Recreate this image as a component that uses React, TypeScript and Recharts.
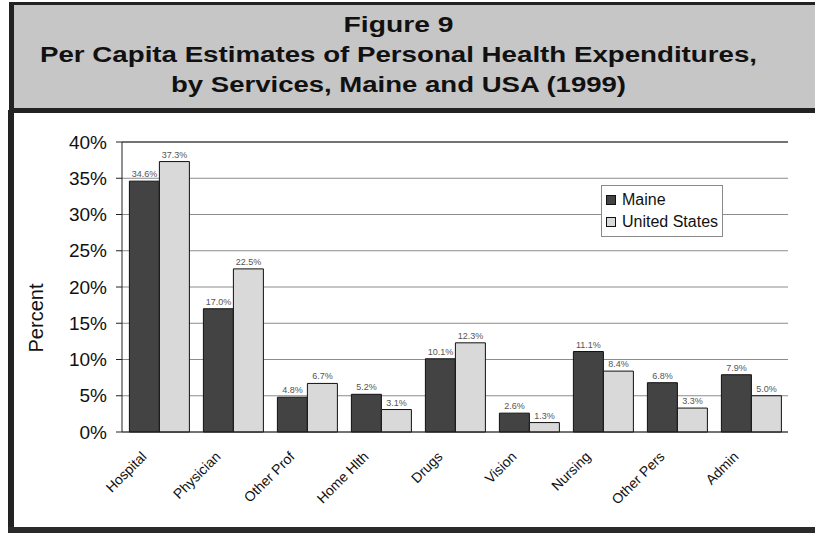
import React from "react";
import {
  BarChart,
  Bar,
  XAxis,
  YAxis,
  CartesianGrid,
  Legend,
  LabelList,
  ReferenceLine,
} from "recharts";

const categories = [
  "Hospital",
  "Physician",
  "Other Prof",
  "Home Hlth",
  "Drugs",
  "Vision",
  "Nursing",
  "Other Pers",
  "Admin",
];
const maine = [34.6, 17.0, 4.8, 5.2, 10.1, 2.6, 11.1, 6.8, 7.9];
const unitedStates = [37.3, 22.5, 6.7, 3.1, 12.3, 1.3, 8.4, 3.3, 5.0];
const yTicks = [0, 5, 10, 15, 20, 25, 30, 35, 40];

const titleLines = [
  "Figure 9",
  "Per Capita Estimates of Personal Health Expenditures,",
  "by Services, Maine and USA (1999)",
];

const data = categories.map((name, i) => ({
  name,
  maine: maine[i],
  us: unitedStates[i],
}));

const FONT = '"Liberation Sans", Arial, Helvetica, sans-serif';
const MAINE_FILL = "#434343";
const US_FILL = "#d9d9d9";

const pct = (v: number) => `${v.toFixed(1)}%`;

function XTick({ x, y, payload }: any) {
  return (
    <g transform={`translate(${x},${y})`}>
      <text
        transform="translate(-15,14) rotate(-45)"
        textAnchor="end"
        dy="0.35em"
        fontSize={14}
        fontFamily={FONT}
        fill="#111"
      >
        {payload.value}
      </text>
    </g>
  );
}

function LegendBox() {
  const items = [
    { label: "Maine", fill: MAINE_FILL },
    { label: "United States", fill: US_FILL },
  ];
  return (
    <div
      style={{
        width: 122,
        height: 52,
        border: "1px solid #8a8a8a",
        background: "#fff",
        boxSizing: "border-box",
        paddingTop: 3,
        fontFamily: FONT,
      }}
    >
      {items.map((it) => (
        <div
          key={it.label}
          style={{ display: "flex", alignItems: "center", height: 22 }}
        >
          <span
            style={{
              display: "inline-block",
              width: 8,
              height: 8,
              marginLeft: 4,
              marginRight: 6,
              background: it.fill,
              border: "1px solid #111",
            }}
          />
          <span style={{ fontSize: 16, color: "#111" }}>{it.label}</span>
        </div>
      ))}
    </div>
  );
}

function Title() {
  const widths = [110, 717, 455];
  const baselines = [32, 62, 92];
  return (
    <svg
      width={815}
      height={533}
      style={{ position: "absolute", left: 0, top: 0 }}
    >
      <rect x={9} y={2} width={806} height={111} fill="#222" />
      <rect x={14} y={5} width={801} height={103} fill="#c6c6c6" />
      <rect x={8} y={110} width={6} height={423} fill="#222" />
      <rect x={8} y={527} width={807} height={6} fill="#2a2a2a" />
      {titleLines.map((t, i) => (
        <text
          key={t}
          x={398.5}
          y={baselines[i]}
          textAnchor="middle"
          fontFamily={FONT}
          fontWeight="bold"
          fontSize={22}
          fill="#111"
          textLength={widths[i]}
          lengthAdjust="spacingAndGlyphs"
        >
          {t}
        </text>
      ))}
    </svg>
  );
}

export default function App() {
  return (
    <div
      style={{
        position: "absolute",
        left: 0,
        top: 0,
        width: 815,
        height: 533,
        background: "#fff",
        overflow: "hidden",
      }}
    >
      <Title />
      <div style={{ position: "absolute", left: 0, top: 0 }}>
        <BarChart
          width={815}
          height={533}
          data={data}
          margin={{ top: 142, right: 27, left: 42, bottom: 41 }}
          barCategoryGap="10%"
          barGap={0}
        >
          <CartesianGrid vertical={false} stroke="#8c8c8c" />
          <XAxis
            dataKey="name"
            height={60}
            interval={0}
            tickLine={false}
            axisLine={{ stroke: "#222" }}
            tick={<XTick />}
          />
          <YAxis
            domain={[0, 40]}
            ticks={yTicks}
            width={80}
            tickSize={6}
            tickMargin={9}
            tickFormatter={(v) => `${v}%`}
            axisLine={{ stroke: "#222" }}
            tickLine={{ stroke: "#222" }}
            tick={{ fontSize: 19, fill: "#111", fontFamily: FONT }}
            label={{
              content: () => (
                <text
                  transform="translate(43,318) rotate(-90)"
                  textAnchor="middle"
                  fontSize={20}
                  fontFamily={FONT}
                  fill="#111"
                >
                  Percent
                </text>
              ),
            }}
          />
          <YAxis
            yAxisId="right"
            orientation="right"
            width={0}
            tick={false}
            tickLine={false}
            axisLine={{ stroke: "#222", strokeDasharray: "3 1" }}
          />
          <ReferenceLine y={40} stroke="#222" />
          <Legend
            layout="vertical"
            align="center"
            verticalAlign="middle"
            wrapperStyle={{ left: 601, top: 185, width: 122, height: 52 }}
            content={() => <LegendBox />}
          />
          <Bar
            dataKey="maine"
            name="Maine"
            fill={MAINE_FILL}
            stroke="#111"
            strokeWidth={1}
            isAnimationActive={false}
          >
            <LabelList
              dataKey="maine"
              position="top"
              offset={4}
              formatter={pct}
              style={{ fontSize: 9, fill: "#555", fontFamily: FONT }}
            />
          </Bar>
          <Bar
            dataKey="us"
            name="United States"
            fill={US_FILL}
            stroke="#111"
            strokeWidth={1}
            isAnimationActive={false}
          >
            <LabelList
              dataKey="us"
              position="top"
              offset={4}
              formatter={pct}
              style={{ fontSize: 9, fill: "#555", fontFamily: FONT }}
            />
          </Bar>
        </BarChart>
      </div>
    </div>
  );
}
